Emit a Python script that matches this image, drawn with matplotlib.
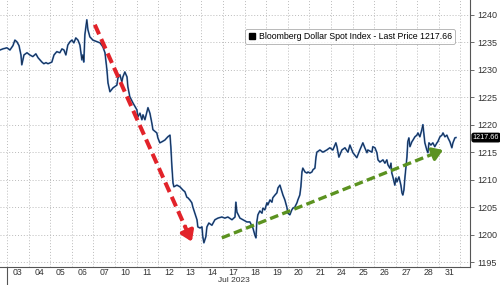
"""
plot.py
Bloomberg Dollar Spot Index, July 2023, with trend arrows.
"""

import matplotlib.pyplot as plt
from matplotlib.lines import Line2D

# x = trading-day position (0 = Jul 03, 1 = Jul 04, ...), y = index level
days = [-0.32, -0.19, 0.00, 0.14, 0.28, 0.37, 0.46, 0.56, 0.65, 0.69, 0.79, 0.93, 1.06, 1.20,
        1.34, 1.44, 1.53, 1.62, 1.71, 1.81, 1.90, 2.08, 2.18, 2.31, 2.45, 2.55, 2.64, 2.73,
        2.82, 2.92, 3.01, 3.10, 3.19, 3.29, 3.38, 3.47, 3.52, 3.56, 3.61, 3.70, 3.75, 3.84,
        3.98, 4.17, 4.31, 4.44, 4.54, 4.63, 4.68, 4.77, 4.91, 5.09, 5.14, 5.23, 5.32, 5.37,
        5.46, 5.56, 5.60, 5.69, 5.83, 6.02, 6.06, 6.16, 6.25, 6.30, 6.39, 6.48, 6.53, 6.62,
        6.71, 6.76, 6.94, 6.99, 7.08, 7.18, 7.31, 7.45, 7.55, 7.59, 7.64, 7.69, 7.73, 7.87,
        8.01, 8.15, 8.24, 8.33, 8.38, 8.47, 8.56, 8.61, 8.70, 8.80, 8.84, 8.94, 9.03, 9.07,
        9.12, 9.21, 9.26, 9.35, 9.49, 9.63, 9.77, 9.95, 10.09, 10.23, 10.42, 10.56, 10.60,
        10.65, 10.79, 10.93, 11.11, 11.25, 11.39, 11.48, 11.53, 11.57, 11.62, 11.71, 11.81,
        11.85, 11.94, 12.04, 12.08, 12.18, 12.27, 12.31, 12.41, 12.50, 12.55, 12.64, 12.73,
        12.78, 12.87, 12.96, 13.01, 13.10, 13.19, 13.24, 13.33, 13.43, 13.47, 13.56, 13.61,
        13.66, 13.70, 13.80, 13.89, 13.94, 14.03, 14.12, 14.17, 14.26, 14.31, 14.35, 14.49,
        14.63, 14.81, 14.95, 15.09, 15.23, 15.28, 15.37, 15.51, 15.65, 15.79, 15.88, 16.02,
        16.20, 16.34, 16.48, 16.57, 16.67, 16.71, 16.90, 16.94, 17.04, 17.13, 17.18, 17.27,
        17.41, 17.50, 17.59, 17.64, 17.73, 17.78, 17.82, 17.87, 17.96, 18.01, 18.06, 18.15,
        18.24, 18.29, 18.33, 18.38, 18.43, 18.52, 18.56, 18.61, 18.66, 18.75, 18.80, 18.89,
        18.98, 19.03, 19.12, 19.21, 19.26, 19.35, 19.44, 19.49, 19.54, 19.63, 19.72, 19.81,
        19.91, 19.95, 20.05, 20.14, 20.19, 20.28, 20.37, 20.42, 20.51, 20.60, 20.65, 20.74,
        20.79]
prices = [1233.6, 1233.8, 1234.0, 1233.6, 1234.4, 1235.4, 1235.1, 1234.4, 1232.7, 1230.9, 1232.7,
          1233.1, 1232.7, 1232.4, 1232.9, 1232.2, 1231.8, 1231.4, 1231.1, 1231.3, 1231.1, 1231.4,
          1232.7, 1233.3, 1233.1, 1233.8, 1233.6, 1232.7, 1234.5, 1235.1, 1235.4, 1234.9, 1235.8,
          1235.4, 1234.5, 1231.8, 1232.7, 1231.4, 1236.4, 1239.1, 1237.3, 1236.0, 1235.4, 1235.1,
          1234.9, 1234.2, 1233.1, 1230.0, 1227.6, 1226.0, 1226.7, 1227.2, 1228.5, 1229.1, 1227.8,
          1228.7, 1229.6, 1228.7, 1226.9, 1225.1, 1224.0, 1222.7, 1221.4, 1222.1, 1220.9, 1221.8,
          1220.9, 1222.3, 1223.1, 1222.1, 1220.3, 1219.1, 1218.5, 1217.6, 1216.7, 1216.9, 1217.2,
          1217.8, 1218.1, 1216.0, 1212.3, 1209.4, 1208.7, 1209.0, 1208.7, 1208.1, 1207.8, 1206.8,
          1206.7, 1206.3, 1205.8, 1205.0, 1203.9, 1202.7, 1201.4, 1201.2, 1201.4, 1199.6, 1198.5,
          1199.6, 1201.4, 1202.1, 1201.7, 1202.7, 1203.0, 1203.2, 1203.0, 1203.2, 1202.7, 1203.2,
          1205.9, 1204.1, 1203.0, 1202.7, 1202.3, 1202.3, 1201.2, 1199.9, 1199.4, 1202.3, 1203.6,
          1204.3, 1203.9, 1204.8, 1204.5, 1205.8, 1205.4, 1206.3, 1205.9, 1206.7, 1207.2, 1207.6,
          1208.5, 1209.0, 1207.8, 1207.2, 1206.3, 1205.0, 1203.9, 1203.6, 1204.5, 1204.8, 1205.0,
          1205.8, 1206.3, 1207.2, 1208.7, 1211.4, 1212.1, 1211.4, 1211.2, 1211.4, 1211.2, 1211.4,
          1211.8, 1212.1, 1214.1, 1215.0, 1215.4, 1215.0, 1215.4, 1215.8, 1215.4, 1216.7, 1216.0,
          1214.1, 1215.4, 1215.8, 1215.0, 1216.3, 1214.9, 1214.0, 1215.4, 1216.7, 1215.8, 1214.9,
          1215.4, 1215.0, 1216.0, 1215.8, 1214.9, 1213.6, 1213.2, 1213.6, 1213.0, 1213.6, 1212.7,
          1212.1, 1213.0, 1211.2, 1210.5, 1209.0, 1210.3, 1209.6, 1210.5, 1209.0, 1207.6, 1207.2,
          1208.1, 1210.5, 1214.1, 1216.9, 1217.6, 1216.0, 1216.9, 1217.2, 1217.8, 1218.1, 1218.5,
          1217.8, 1219.1, 1220.0, 1216.7, 1215.4, 1214.9, 1216.7, 1216.3, 1216.7, 1216.0, 1216.7,
          1216.9, 1217.8, 1218.1, 1218.5, 1217.8, 1218.1, 1217.6, 1216.9, 1215.8, 1216.7, 1217.6,
          1217.66]

day_labels = ['03', '04', '05', '06', '07', '10', '11', '12', '13', '14', '17',
              '18', '19', '20', '21', '24', '25', '26', '27', '28', '31']
y_ticks = [1195, 1200, 1205, 1210, 1215, 1220, 1225, 1230, 1235, 1240]
last_price = 1217.66

# trend arrows (start, end) in (day, price)
red_arrow = [(4.07, 1238.2), (8.56, 1198.7)]
green_arrow = [(9.95, 1199.4), (20.19, 1215.4)]

font = ['Liberation Sans Narrow', 'Liberation Sans', 'DejaVu Sans']
plt.rcParams['font.family'] = font

fig = plt.figure(figsize=(5, 2.85), dpi=100)
ax = fig.add_axes([0.0, 18 / 285, 0.94, 267 / 285])

ax.plot(days, prices, color='#4f7fbd', lw=1.3, solid_joinstyle='round')
ax.plot(days, prices, color='#0f2444', lw=0.6)

# dashed arrows: dashed shaft + solid head
def draw_arrow(p0, p1, color, lw, frac):
    (x0, y0), (x1, y1) = p0, p1
    xs = x0 + (x1 - x0) * (1 - frac)
    ys = y0 + (y1 - y0) * (1 - frac)
    ax.plot([x0, xs], [y0, ys], color=color, lw=lw, dashes=(2.6, 1.3), solid_capstyle='butt')
    ax.annotate('', xy=(x1, y1), xytext=(xs, ys),
                arrowprops=dict(arrowstyle='-|>,head_length=0.6,head_width=0.4',
                                color=color, lw=lw, shrinkA=0, shrinkB=0))

draw_arrow(red_arrow[0], red_arrow[1], '#e2232a', 2.9, 0.07)
draw_arrow(green_arrow[0], green_arrow[1], '#5b9220', 2.4, 0.05)

ax.set_xlim(-0.32, 21.44)
ax.set_ylim(1194.1, 1242.7)

# grid at day boundaries and every 5 points
ax.set_xticks(range(0, len(day_labels) + 1))
ax.set_xticks([i + 0.5 for i in range(len(day_labels))], minor=True)
ax.set_xticklabels([], minor=False)
ax.set_xticklabels(day_labels, minor=True)
ax.tick_params(axis='x', which='major', length=0)
ax.tick_params(axis='x', which='minor', length=0, labelsize=6.3, colors='#333333', pad=1.0)
ax.set_yticks(y_ticks)
ax.yaxis.tick_right()
ax.tick_params(axis='y', length=3, width=0.6, color='#555555', labelsize=6.5,
               labelcolor='#333333', pad=2)
ax.grid(True, which='major', color='#bbbbbb', linestyle=(0, (1, 2)), lw=0.7)

for side in ['top', 'left']:
    ax.spines[side].set_visible(False)
for side in ['bottom', 'right']:
    ax.spines[side].set_color('#555555')
    ax.spines[side].set_linewidth(0.8)

# month separator tick and label
ax.plot([0, 0], [0, -0.07], transform=ax.get_xaxis_transform(), color='#555555',
        lw=0.8, clip_on=False)
ax.text(10.5, -0.036, 'Jul 2023', transform=ax.get_xaxis_transform(), ha='center',
        va='top', fontsize=6.0, color='#333333')

# last price tag
ax.text(1.006, last_price, f'{last_price:.2f}', transform=ax.get_yaxis_transform(),
        ha='left', va='center', fontsize=5.2, color='white',
        bbox=dict(boxstyle='round,pad=0.1,rounding_size=0.25', fc='black', ec='black'))

handle = Line2D([], [], marker='s', color='black', linestyle='none', markersize=4.5)
leg = ax.legend([handle], [f'Bloomberg Dollar Spot Index - Last Price {last_price:.2f}'],
                loc='upper left', bbox_to_anchor=(245 / 500, 1 - 29 / 285),
                bbox_transform=fig.transFigure, fontsize=6.3, frameon=True, fancybox=True,
                handlelength=0.8, handletextpad=0.4, borderpad=0.35, borderaxespad=0)
leg.get_frame().set_edgecolor('#999999')
leg.get_frame().set_linewidth(0.6)

fig.savefig('out.png', dpi=100)
